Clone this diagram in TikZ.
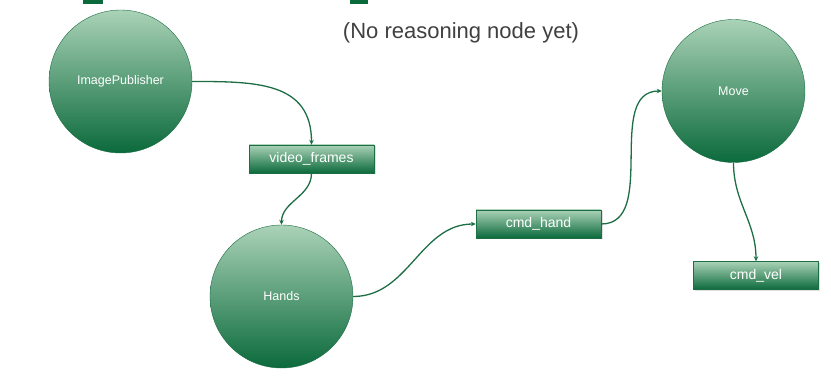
\documentclass[tikz,border=0pt]{standalone}
\usepackage{fontspec}
\setmainfont{Liberation Sans}
\usetikzlibrary{
	arrows.meta,   %箭头
	shadows,       %阴影
	positioning
}
\definecolor{rosdark}{HTML}{0B6A3B}
\definecolor{roslight}{HTML}{AAD2B7}
\definecolor{rosline}{HTML}{1D6E45}
\definecolor{notegray}{HTML}{404040}
\tikzset{
	every picture/.style={
		>={Stealth[length=5pt,width=4.5pt]},
		x=1pt,y=-1pt
	},
	%圆形节点
	rosnode/.style={circle,
		draw=rosline,
		top color=roslight,
		bottom color=rosdark,
		minimum size=143pt,
		inner sep=0pt,
		text=white,
		font=\fontsize{12.5}{14}\selectfont},
	%话题方框
	topicbox/.style={rectangle,
		draw=rosline,
		top color=roslight,
		bottom color=rosdark,
		minimum width=125pt,
		minimum height=28pt,
		inner sep=0pt,
		text=white,
		font=\fontsize{14}{16}\selectfont,
		drop shadow={opacity=0.25,shadow xshift=1.5pt,shadow yshift=-1.5pt}},
	%连线
	topic/.style={->,draw=rosline,line width=1.3pt}
}

\begin{document}
\begin{tikzpicture}
\useasboundingbox (0,0) rectangle (831,377);

%顶部被截掉的色块
\fill[rosdark] (83,0) rectangle (103,4);
\fill[rosdark] (350,0) rectangle (368,4);

%说明文字
\node[text=notegray,font=\fontsize{22}{24}\selectfont] (note) at (461,33) {(No reasoning node yet)};

%节点
\node[rosnode] (imgpub) at (120.5,81.5) {ImagePublisher};
\node[rosnode] (hands) at (281.5,296.5) {Hands};
\node[rosnode] (move) at (733.5,91) {Move};

%话题
\node[topicbox] (frames) at (311.5,159) {video\_frames};
\node[topicbox] (cmdhand) at (538.5,224) {cmd\_hand};
\node[topicbox] (cmdvel) at (756,275.5) {cmd\_vel};

%连线
\draw[topic] (imgpub.east) to[out=0,in=90,looseness=1.2] (frames.north);
\draw[topic] (frames.south) to[out=-90,in=90] (hands.north);
\draw[topic] (hands.east) to[out=0,in=180] (cmdhand.west);
\draw[topic] (cmdhand.east) to[out=0,in=180] (move.west);
\draw[topic] (move.south) to[out=-90,in=90] (cmdvel.north);

\end{tikzpicture}
\end{document}
